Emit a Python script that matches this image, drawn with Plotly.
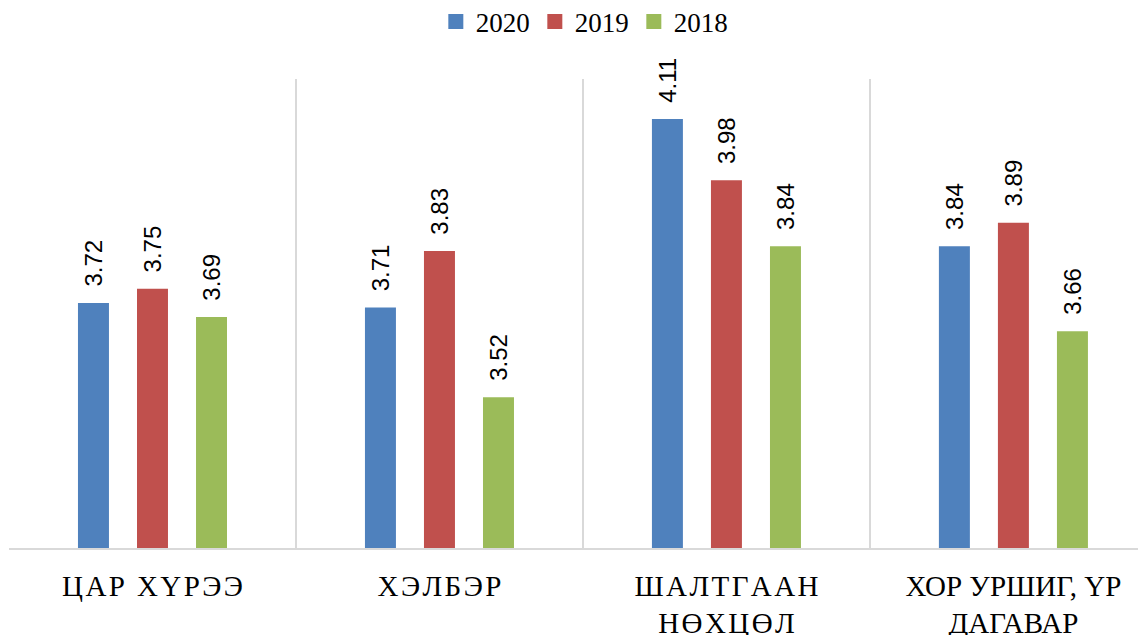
import plotly.graph_objects as go

HS = "\u200a"
def spaced(s, sep):
    return "<br>".join(sep.join(list(line)) for line in s.split("\n"))

categories = ["ЦАР ХҮРЭЭ", "ХЭЛБЭР", "ШАЛТГААН\nНӨХЦӨЛ", "ХОР УРШИГ, ҮР\nДАГАВАР"]
series_names = ["2020", "2019", "2018"]
values_2020 = [3.72, 3.71, 4.11, 3.84]
values_2019 = [3.75, 3.83, 3.98, 3.89]
values_2018 = [3.69, 3.52, 3.84, 3.66]
colors = ["#4F81BD", "#C0504D", "#9BBB59"]

letter_gaps = [HS, HS, HS, ""]
labels = [spaced(c, g) for c, g in zip(categories, letter_gaps)]
SERIF = "Liberation Serif"
SANS = "Liberation Sans"
NB = "\u00a0\u00a0"

fig = go.Figure()
for name, vals, col in zip(series_names, [values_2020, values_2019, values_2018], colors):
    fig.add_trace(go.Bar(
        x=labels, y=vals, name=name, marker=dict(color=col, line=dict(width=0)),
        text=[NB + f"{v:.2f}" for v in vals], textposition="outside", textangle=-90,
        constraintext="none", cliponaxis=False, showlegend=False,
        textfont=dict(family=SANS, size=24, color="#000000"),
    ))
# legend entries (square swatches)
for name, col in zip(series_names, colors):
    fig.add_trace(go.Scatter(
        x=[None], y=[None], mode="markers", name=name,
        marker=dict(symbol="square", size=15, color=col),
    ))

fig.update_layout(
    width=1138, height=627, autosize=False,
    margin=dict(l=1, r=0, t=71, b=87),
    paper_bgcolor="white", plot_bgcolor="white",
    barmode="group", bargap=0.383, bargroupgap=0.475,
    font=dict(family=SERIF, color="#000000"),
    showlegend=True,
    legend=dict(orientation="h", x=0.506, xanchor="center",
                yref="container", y=1 - 14 / 627, yanchor="middle",
                font=dict(family=SERIF, size=27), traceorder="normal",
                itemwidth=30, itemsizing="trace"),
    xaxis=dict(type="category", tickson="boundaries", showgrid=True, automargin=False,
               gridcolor="#D9D9D9", gridwidth=1.5, showline=True, linecolor="#D9D9D9",
               linewidth=1.5, ticks="", range=[-0.5, 3.462], ticklabelstandoff=11,
               tickfont=dict(family=SERIF, size=29, color="#000000")),
    yaxis=dict(range=[3.2, 4.195], showgrid=False, showticklabels=False, zeroline=False,
               showline=False, ticks="", automargin=False),
)

fig.write_html("out.html")
